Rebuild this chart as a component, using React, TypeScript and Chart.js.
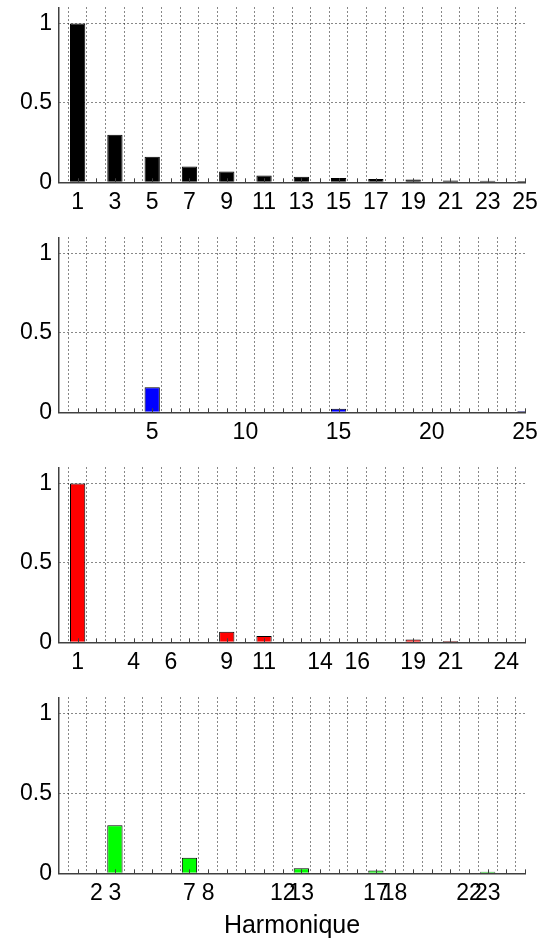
import React, { useEffect, useRef } from "react";
import { Chart, registerables } from "chart.js";

Chart.register(...registerables);

// Harmonic orders 1..25
const HARMONICS = [1, 2, 3, 4, 5, 6, 7, 8, 9, 10, 11, 12, 13, 14, 15, 16, 17, 18, 19, 20, 21, 22, 23, 24, 25];

// Amplitudes (relative to fundamental) per harmonic 1..25
const AMP_TOTAL = [1, 0, 0.3, 0, 0.16, 0, 0.1, 0, 0.068, 0, 0.043, 0, 0.035, 0, 0.027, 0, 0.02, 0, 0.018, 0, 0.012, 0, 0.01, 0, 0.008];
const AMP_BLUE = [0, 0, 0, 0, 0.158, 0, 0, 0, 0, 0, 0, 0, 0, 0, 0.022, 0, 0, 0, 0, 0, 0, 0, 0, 0, 0.008];
const AMP_RED = [1, 0, 0, 0, 0, 0, 0, 0, 0.066, 0, 0.04, 0, 0, 0, 0, 0, 0, 0, 0.017, 0, 0.008, 0, 0, 0, 0];
const AMP_GREEN = [0, 0, 0.3, 0, 0, 0, 0.098, 0, 0, 0, 0, 0, 0.032, 0, 0, 0, 0.018, 0, 0, 0, 0, 0, 0.009, 0, 0];

// Tick labels shown on each subplot's x axis
const TICKS_TOTAL = [1, 3, 5, 7, 9, 11, 13, 15, 17, 19, 21, 23, 25];
const TICKS_BLUE = [5, 10, 15, 20, 25];
const TICKS_RED = [1, 4, 6, 9, 11, 14, 16, 19, 21, 24];
const TICKS_GREEN = [2, 3, 7, 8, 12, 13, 17, 18, 22, 23];

const Y_TICKS = [0, 0.5, 1];
const X_MIN = 0;
const X_MAX = 25;
const Y_MIN = 0;
const Y_MAX = 1.1;

const FONT = "'Liberation Sans', Arial, Helvetica, sans-serif";

const innerTicks = {
  id: "innerTicks",
  afterDatasetsDraw(chart: any) {
    const { ctx, chartArea } = chart;
    const xs = chart.scales.x;
    ctx.save();
    ctx.strokeStyle = "#404040";
    ctx.lineWidth = 1;
    ctx.beginPath();
    for (let v = 1; v <= X_MAX; v++) {
      const px = Math.round(xs.getPixelForValue(v)) + 0.5;
      ctx.moveTo(px, chartArea.bottom);
      ctx.lineTo(px, chartArea.bottom - 4);
    }
    ctx.stroke();
    ctx.restore();
  },
};

type PanelProps = {
  top: number;
  height: number;
  values: number[];
  color: string;
  labels: number[];
  title?: string;
};

function Panel({ top, height, values, color, labels, title }: PanelProps) {
  const ref = useRef<HTMLCanvasElement | null>(null);
  useEffect(() => {
    if (!ref.current) return;
    const bottomGap = title ? height - 183.3 : height - 182.3;
    const chart = new Chart(ref.current, {
      type: "bar",
      data: {
        labels: HARMONICS,
        datasets: [
          {
            data: values,
            backgroundColor: color,
            borderColor: "#000",
            borderWidth: 1,
            barPercentage: 0.82,
            categoryPercentage: 1,
          },
        ],
      },
      plugins: [innerTicks],
      options: {
        animation: false,
        responsive: false,
        maintainAspectRatio: false,
        devicePixelRatio: 1,
        layout: { padding: { top: 7.5, right: 13, left: 0, bottom: 0 } },
        plugins: { legend: { display: false }, tooltip: { enabled: false }, title: { display: false } },
        scales: {
          x: {
            type: "linear",
            min: X_MIN,
            max: X_MAX,
            offset: false,
            afterBuildTicks: (s: any) => {
              s.ticks = HARMONICS.concat([0]).sort((a, b) => a - b).map((v) => ({ value: v }));
            },
            afterFit: (s: any) => {
              s.height = bottomGap;
              s.paddingLeft = 0;
              s.paddingRight = 0;
            },
            ticks: {
              autoSkip: false,
              maxRotation: 0,
              minRotation: 0,
              padding: 7,
              color: "#000",
              font: { family: FONT, size: 23 },
              callback: (v: any) => (labels.includes(Number(v)) ? String(v) : ""),
            },
            grid: {
              display: true,
              drawTicks: false,
              lineWidth: 1,
              color: (c: any) => (c.tick && c.tick.value === 0 ? "rgba(0,0,0,0)" : "#111"),
            },
            border: { display: true, color: "#404040", width: 1.5, dash: [1, 3] },
            title: title
              ? {
                  display: true,
                  text: title,
                  color: "#000",
                  font: { family: FONT, size: 25 },
                  padding: { top: 0, bottom: 0 },
                }
              : { display: false },
          },
          y: {
            type: "linear",
            min: Y_MIN,
            max: Y_MAX,
            afterBuildTicks: (s: any) => {
              s.ticks = Y_TICKS.map((v) => ({ value: v }));
            },
            afterFit: (s: any) => {
              s.width = 59;
              s.paddingTop = 0;
              s.paddingBottom = 0;
            },
            ticks: {
              padding: 7,
              color: "#000",
              font: { family: FONT, size: 23 },
              callback: (v: any) => String(v),
            },
            grid: {
              display: true,
              drawTicks: false,
              lineWidth: 1,
              color: (c: any) => (c.tick && c.tick.value === 0 ? "rgba(0,0,0,0)" : "#111"),
            },
            border: { display: true, color: "#404040", width: 1.5, dash: [1, 3] },
          },
        },
      } as any,
    });
    return () => chart.destroy();
  }, []);
  return (
    <canvas
      ref={ref}
      width={538}
      height={height}
      style={{ position: "absolute", left: 0, top, width: 538, height, display: "block" }}
    />
  );
}

export default function App() {
  return (
    <div style={{ position: "absolute", left: 0, top: 0, width: 538, height: 941, background: "#fff" }}>
      <Panel top={0} height={230} values={AMP_TOTAL} color="#000000" labels={TICKS_TOTAL} />
      <Panel top={230} height={230} values={AMP_BLUE} color="#0000ff" labels={TICKS_BLUE} />
      <Panel top={460} height={230} values={AMP_RED} color="#ff0000" labels={TICKS_RED} />
      <Panel top={690} height={251} values={AMP_GREEN} color="#00ff00" labels={TICKS_GREEN} title="Harmonique" />
    </div>
  );
}
